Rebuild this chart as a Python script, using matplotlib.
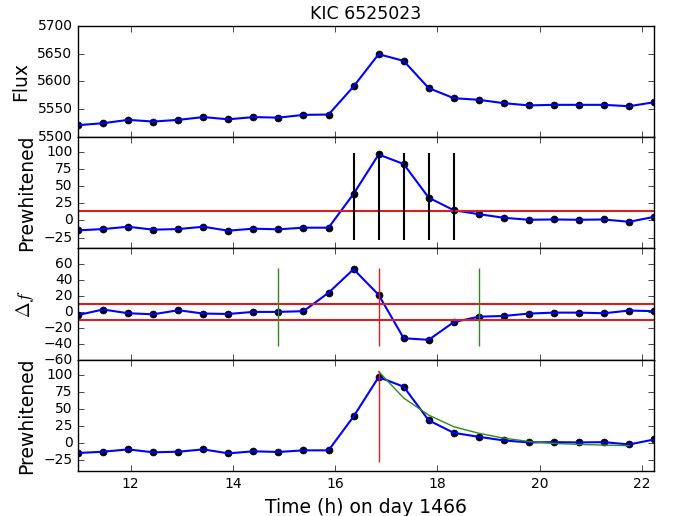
import matplotlib
matplotlib.use('Agg')
import matplotlib.pyplot as plt

# tempos (h) no dia 1466, cadencia longa do Kepler
tempo = [10.97, 11.46, 11.95, 12.44, 12.93, 13.42, 13.91, 14.40, 14.89, 15.38,
         15.87, 16.36, 16.85, 17.34, 17.83, 18.32, 18.81, 19.30, 19.79, 20.28,
         20.77, 21.26, 21.75, 22.24]

fluxo = [5521.5, 5525, 5531, 5528, 5531, 5536, 5532, 5536, 5535, 5540,
         5540.6, 5591, 5649, 5637, 5588, 5570, 5567, 5561, 5557, 5558,
         5558, 5558, 5555.5, 5562.7]

prewhitened = [-14.5, -12.6, -9.2, -13.5, -12.6, -9.2, -15, -12, -13, -10.6,
               -10.6, 39, 96.6, 82.6, 33.3, 15, 9.2, 3.9, 1, 1.4,
               1, 1.4, -2, 5.3]

delta_f = [-3.9, 3, -1.7, -3, 2.1, -2.1, -2.6, 0, 0, 0.9,
           24, 53.5, 21.4, -33, -35, -12.8, -6, -5.1, -2.1, -0.9,
           -0.9, -1.7, 1.7, 0.9]

# ajuste exponencial do decaimento (a partir do pico)
tempo_ajuste = [16.85, 17.34, 17.83, 18.32, 18.81, 19.30, 19.79, 20.28, 20.77, 21.26, 21.75]
ajuste = [104.8, 66, 41, 24, 14.4, 7.2, 2.4, -0.5, -1.9, -2.9, -3.8]

limiar = 14
limiar_df = 10
tempos_flare = [16.36, 16.85, 17.34, 17.83, 18.32]
inicio_fim = [14.89, 18.81]
pico = 16.85

vermelho = '#d42020'
verde = '#2f8a1c'

plt.style.use('classic')
plt.rcParams['xtick.labelsize'] = 10
plt.rcParams['ytick.labelsize'] = 10

fig, axs = plt.subplots(4, 1, sharex=True, figsize=(6.73, 5.16), dpi=100)
fig.subplots_adjust(left=0.116, right=0.972, top=0.950, bottom=0.087, hspace=0)

ax = axs[0]
ax.plot(tempo, fluxo, 'ko', ms=5)
ax.plot(tempo, fluxo, 'b-', lw=1.5)
ax.set_ylim(5500, 5700)
ax.set_yticks([5500, 5550, 5600, 5650, 5700])
ax.set_ylabel('Flux', fontsize=13.5)
ax.set_title('KIC 6525023', fontsize=12.5)

ax = axs[1]
ax.plot(tempo, prewhitened, 'ko', ms=5)
ax.plot(tempo, prewhitened, 'b-', lw=1.5)
ax.axhline(limiar, color=vermelho, lw=1.5)
ax.vlines(tempos_flare, -28, 99, color='k', lw=1.5)
ax.set_ylim(-41, 122)
ax.set_yticks([-25, 0, 25, 50, 75, 100])
ax.set_ylabel('Prewhitened', fontsize=13.5)

ax = axs[2]
ax.plot(tempo, delta_f, 'ko', ms=5)
ax.plot(tempo, delta_f, 'b-', lw=1.5)
ax.axhline(limiar_df, color=vermelho, lw=1.5)
ax.axhline(-limiar_df, color=vermelho, lw=1.5)
ax.vlines(inicio_fim, -43, 55, color=verde, lw=1)
ax.vlines([pico], -43, 55, color=vermelho, lw=1)
ax.set_ylim(-60, 79.5)
ax.set_yticks([-60, -40, -20, 0, 20, 40, 60])
ax.set_ylabel(r'$\Delta f$', fontsize=13.5)

ax = axs[3]
ax.plot(tempo, prewhitened, 'ko', ms=5)
ax.plot(tempo, prewhitened, 'b-', lw=1.5)
ax.plot(tempo_ajuste, ajuste, '-', color=verde, lw=1)
ax.vlines([pico], -28, 105, color=vermelho, lw=1)
ax.set_ylim(-41, 122)
ax.set_yticks([-25, 0, 25, 50, 75, 100])
ax.set_ylabel('Prewhitened', fontsize=13.5)
ax.set_xlabel('Time (h) on day 1466', fontsize=13.5)

ax.set_xlim(tempo[0], tempo[-1])
ax.set_xticks([12, 14, 16, 18, 20, 22])

fig.savefig('out.png', facecolor='white')
